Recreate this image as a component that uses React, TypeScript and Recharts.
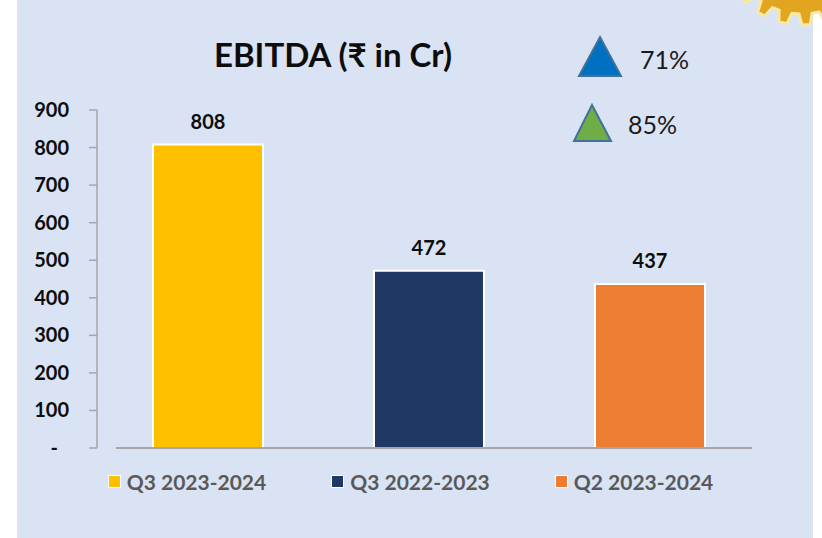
import { Bar, BarChart, Cell, LabelList, Legend, XAxis, YAxis } from "recharts";

const quarters = ["Q3 2023-2024", "Q3 2022-2023", "Q2 2023-2024"];
const ebitda = [808, 472, 437];
const barColors = ["#FFC000", "#1F3864", "#ED7D31"];
const yTicks = [0, 100, 200, 300, 400, 500, 600, 700, 800, 900];
const growthLabels = ["71%", "85%"];
const growthColors = ["#0070C0", "#70AD47"];

const FONT = "Lato, 'Noto Sans', 'DejaVu Sans', sans-serif";

const data = quarters.map((q, i) => ({ name: q, value: ebitda[i] }));

// plain gear outline for the logo peeking in at the top right corner
function gearPath(cx: number, cy: number, rOut: number, rIn: number, teeth: number) {
  const pts: string[] = [];
  const step = (Math.PI * 2) / teeth;
  for (let i = 0; i < teeth; i++) {
    const a = i * step;
    const seq = [
      [a, rIn],
      [a + step * 0.15, rOut],
      [a + step * 0.5, rOut],
      [a + step * 0.65, rIn],
    ];
    seq.forEach(([ang, r]) => {
      pts.push(`${(cx + r * Math.cos(ang)).toFixed(1)},${(cy + r * Math.sin(ang)).toFixed(1)}`);
    });
  }
  return `M${pts.join("L")}Z`;
}

const YTick = (props: any) => {
  const { x, y, payload } = props;
  const zero = payload.value === 0;
  return (
    <text
      x={zero ? x - 11 : x}
      y={y}
      dy={7}
      textAnchor="end"
      fontFamily={FONT}
      fontWeight={700}
      fontSize={20}
      fill="#0d0d0d"
    >
      {zero ? "-" : payload.value}
    </text>
  );
};

const LegendBox = () => (
  <div style={{ display: "flex", justifyContent: "center", gap: 66, fontFamily: FONT }}>
    {quarters.map((q, i) => (
      <div key={q} style={{ display: "flex", alignItems: "center" }}>
        <span
          style={{
            width: 11,
            height: 11,
            background: barColors[i],
            outline: "1px solid #fff",
            marginRight: 7,
          }}
        />
        <span style={{ color: "#595959", fontWeight: 700, fontSize: 21 }}>{q}</span>
      </div>
    ))}
  </div>
);

export default function App() {
  return (
    <div
      style={{
        position: "absolute",
        left: 0,
        top: 0,
        width: 822,
        height: 538,
        background: "#fff",
        overflow: "hidden",
      }}
    >
      <div
        style={{ position: "absolute", left: 17, top: 0, width: 796, height: 538, background: "#DAE3F3" }}
      />
      <svg width={822} height={538} style={{ position: "absolute", left: 0, top: 0 }}>
        <path d={gearPath(802, -57, 82, 71, 22)} fill="#E2A520" stroke="#F6E9A6" strokeWidth={3} />
        <circle cx={812} cy={-62} r={62} fill="#1d2d50" />
        <text
          x={333}
          y={67}
          textAnchor="middle"
          fontFamily={FONT}
          fontWeight={700}
          fontSize={33}
          fill="#0d0d0d"
        >
          EBITDA (₹ in Cr)
        </text>
        <polygon points="600,37 621,76 579,76" fill={growthColors[0]} stroke="#41719C" strokeWidth={2} />
        <polygon points="592,105 611,141 574,141" fill={growthColors[1]} stroke="#41719C" strokeWidth={2} />
        <text x={640} y={69} fontFamily={FONT} fontSize={25} fill="#1a1a1a">
          {growthLabels[0]}
        </text>
        <text x={628} y={134} fontFamily={FONT} fontSize={25} fill="#1a1a1a">
          {growthLabels[1]}
        </text>
      </svg>
      <div style={{ position: "absolute", left: 0, top: 0 }}>
        <BarChart width={822} height={538} data={data} margin={{ top: 110, right: 62, bottom: 60, left: 0 }}>
          <XAxis
            dataKey="name"
            height={30}
            tick={false}
            tickLine={false}
            axisLine={{ stroke: "#A6A6A6", strokeWidth: 2, strokeDasharray: "0 19 636 40" }}
          />
          <YAxis
            width={97}
            domain={[0, 900]}
            ticks={yTicks}
            interval={0}
            tick={<YTick />}
            tickSize={8}
            tickMargin={20}
            tickLine={{ stroke: "#A6A6A6", strokeWidth: 1.5 }}
            axisLine={{ stroke: "#A6A6A6", strokeWidth: 1.5 }}
          />
          <Legend
            layout="horizontal"
            verticalAlign="middle"
            align="center"
            content={<LegendBox />}
            wrapperStyle={{ top: 469, left: 0, width: 822 }}
          />
          <Bar dataKey="value" barSize={110} stroke="#fff" strokeWidth={2} isAnimationActive={false}>
            {data.map((d, i) => (
              <Cell key={d.name} fill={barColors[i]} />
            ))}
            <LabelList
              dataKey="value"
              position="top"
              offset={16}
              fontFamily={FONT}
              fontWeight={700}
              fontSize={20}
              fill="#0d0d0d"
            />
          </Bar>
        </BarChart>
      </div>
    </div>
  );
}
